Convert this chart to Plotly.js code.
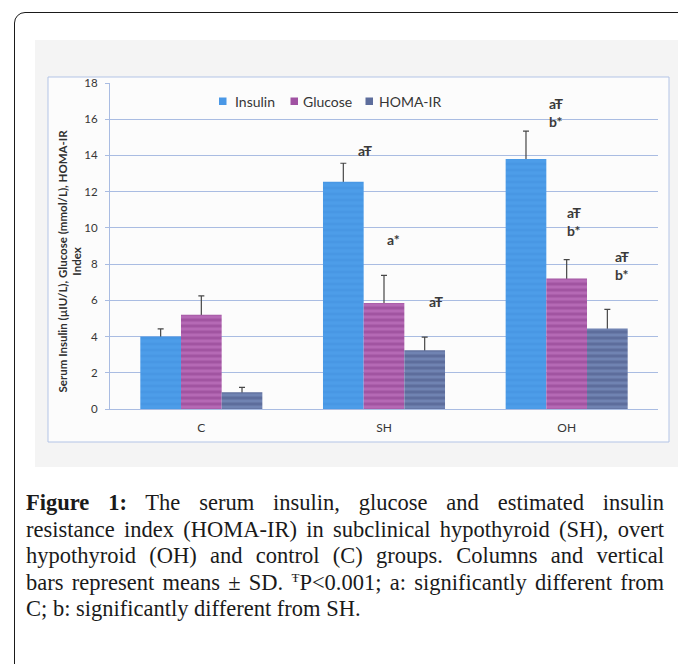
<!DOCTYPE html>
<html>
<head>
<meta charset="utf-8">
<script src="https://cdn.plot.ly/plotly-3.0.1.min.js"></script>
<style>
html,body{margin:0;padding:0;width:678px;height:664px;overflow:hidden;background:#ffffff;}
#frame{position:absolute;left:14px;top:12px;width:740px;height:740px;border:1.5px solid #1a1a1a;border-radius:11px;box-sizing:border-box;}
#chart{position:absolute;left:0;top:0;width:678px;height:664px;}
#caption{position:absolute;left:26px;top:490px;width:638px;font-family:'Liberation Serif','Times New Roman',serif;font-size:22.5px;line-height:26.5px;color:#1a1a1a;}
#caption .ln{text-align:justify;text-align-last:justify;white-space:nowrap;}
#caption .last{text-align:left;text-align-last:left;}
#caption sup{font-size:13px;line-height:0;vertical-align:8px;}
</style>
</head>
<body>
<div id="frame"></div>
<div id="chart"></div>
<div id="caption">
<div class="ln"><b>Figure 1:</b> The serum insulin, glucose and estimated insulin</div>
<div class="ln">resistance index (HOMA-IR) in subclinical hypothyroid (SH), overt</div>
<div class="ln">hypothyroid (OH) and control (C) groups. Columns and vertical</div>
<div class="ln">bars represent means ± SD. <sup>Ŧ</sup>P&lt;0.001; a: significantly different from</div>
<div class="ln last">C; b: significantly different from SH.</div>
</div>
<script>
// ---- data ----
var categories = ['C', 'SH', 'OH'];
var seriesNames = ['Insulin', 'Glucose', 'HOMA-IR'];
var insulin   = [4.0, 12.55, 13.8];
var insulinSD = [0.42, 1.02, 1.54];
var glucose   = [5.2, 5.85, 7.2];
var glucoseSD = [1.05, 1.53, 1.05];
var homa      = [0.93, 3.25, 4.45];
var homaSD    = [0.26, 0.72, 1.05];
var yTicks    = [0, 2, 4, 6, 8, 10, 12, 14, 16, 18];

var lightCol = ['#4d9de9', '#b569b5', '#7083b2'];
var darkCol  = ['#4392e0', '#8d3f8d', '#4a5885'];
var swatchCol = ['#4a98e6', '#a052a2', '#5d6d9c'];

// one-sided (upper) SD bars: the lower end sits just inside the column, hidden by it
function hiddenLow(a){ return a.map(function(){ return 0.08; }); }

var vals = [insulin, glucose, homa];
var sds  = [insulinSD, glucoseSD, homaSD];
var barW = 0.2227;
var offs = [-1.5 * barW, -0.5 * barW, 0.5 * barW];

// error bars first (transparent bars), then the visible bars on top
var errTraces = vals.map(function(v, i){
  return {
    type: 'bar', name: seriesNames[i] + ' SD', x: categories, y: v,
    width: barW, offset: offs[i],
    marker: {color: 'rgba(0,0,0,0)', line: {width: 0}},
    error_y: {type: 'data', symmetric: false, array: sds[i], arrayminus: hiddenLow(sds[i]),
      color: '#474747', thickness: 1.2, width: 3},
    hoverinfo: 'skip', showlegend: false
  };
});
var barTraces = vals.map(function(v, i){
  return {
    type: 'bar', name: seriesNames[i], x: categories, y: v,
    width: barW, offset: offs[i],
    marker: {
      color: lightCol[i], line: {width: 0},
      pattern: {shape: '-', fgcolor: darkCol[i], size: 6, solidity: 0.5, fillmode: 'overlay'}
    },
    hoverinfo: 'x+y+name'
  };
});

var gridCol = '#a9bce2';
var txtCol = '#363636';
var fontFam = 'Lato, "DejaVu Sans", sans-serif';

// pixel -> paper helpers (plot area: x 110..658, y 83..409)
function px(x){ return (x - 110) / 548; }
function py(y){ return (409 - y) / 326; }

var shapes = [
  {type:'rect', xref:'paper', yref:'paper', x0:px(35), x1:px(680), y0:py(467), y1:py(40),
   fillcolor:'#f4f4f4', line:{width:0}, layer:'below'},
  {type:'rect', xref:'paper', yref:'paper', x0:px(48), x1:px(669), y0:py(442), y1:py(77),
   fillcolor:'#fcfcfc', line:{width:1, color:'#b3c4e6'}, layer:'below'}
];

// custom legend
var legX = [219, 290.5, 365.5];
var legTx = [233, 300.5, 376.5];
var annotations = [];
seriesNames.forEach(function(n, i){
  shapes.push({type:'rect', xref:'paper', yref:'paper', x0:px(legX[i]), x1:px(legX[i]+7.5),
    y0:py(105), y1:py(97.5), fillcolor:swatchCol[i], line:{width:0}});
  annotations.push({xref:'paper', yref:'paper', x:px(legTx[i]), y:py(101), xanchor:'left', yanchor:'middle',
    text:n, showarrow:false, font:{family:fontFam, size:14, color:txtCol}});
});

// significance marks
function sig(xd, yd, t){
  annotations.push({xref:'x', yref:'y', x:xd, y:yd, text:'<b>'+t+'</b>', showarrow:false,
    xanchor:'center', yanchor:'middle', font:{family:fontFam, size:14, color:'#3a3a3a'}});
}
sig(0.896, 14.29, 'aŦ');
sig(1.051, 9.38, 'a*');
sig(1.282, 5.92, 'aŦ');
sig(1.943, 16.89, 'aŦ');
sig(1.943, 15.86, 'b*');
sig(2.041, 10.83, 'aŦ');
sig(2.041, 9.84, 'b*');
sig(2.301, 8.40, 'aŦ');
sig(2.301, 7.40, 'b*');

// y title
annotations.push({xref:'paper', yref:'paper', x:px(69.5), y:py(261), textangle:-90,
  xanchor:'center', yanchor:'middle', showarrow:false,
  text:'<b>Serum Insulin (µIU/L), Glucose (mmol/L), HOMA-IR<br>Index</b>',
  font:{family:fontFam, size:11.5, color:'#303030'}});

var layout = {
  width: 678, height: 664, autosize: false,
  margin: {l:110, r:20, t:83, b:255, pad:0},
  paper_bgcolor: 'rgba(0,0,0,0)',
  plot_bgcolor: 'rgba(0,0,0,0)',
  barmode: 'overlay',
  showlegend: false,
  font: {family: fontFam, color: txtCol},
  xaxis: {
    type:'category', showline:true, linecolor:gridCol, linewidth:1,
    showgrid:false, zeroline:false, ticks:'', ticklabelstandoff:8,
    tickfont:{family:fontFam, size:12, color:txtCol}, fixedrange:true
  },
  yaxis: {
    range:[0,18], tickvals:yTicks, showgrid:true, gridcolor:gridCol, gridwidth:1,
    showline:true, linecolor:gridCol, linewidth:1, zeroline:false,
    ticks:'outside', ticklen:4, tickcolor:gridCol, ticklabelstandoff:5,
    tickfont:{family:fontFam, size:11.5, color:txtCol}, fixedrange:true
  },
  shapes: shapes,
  annotations: annotations
};

Plotly.newPlot('chart', errTraces.concat(barTraces), layout, {displayModeBar:false, staticPlot:true});
</script>
</body>
</html>
